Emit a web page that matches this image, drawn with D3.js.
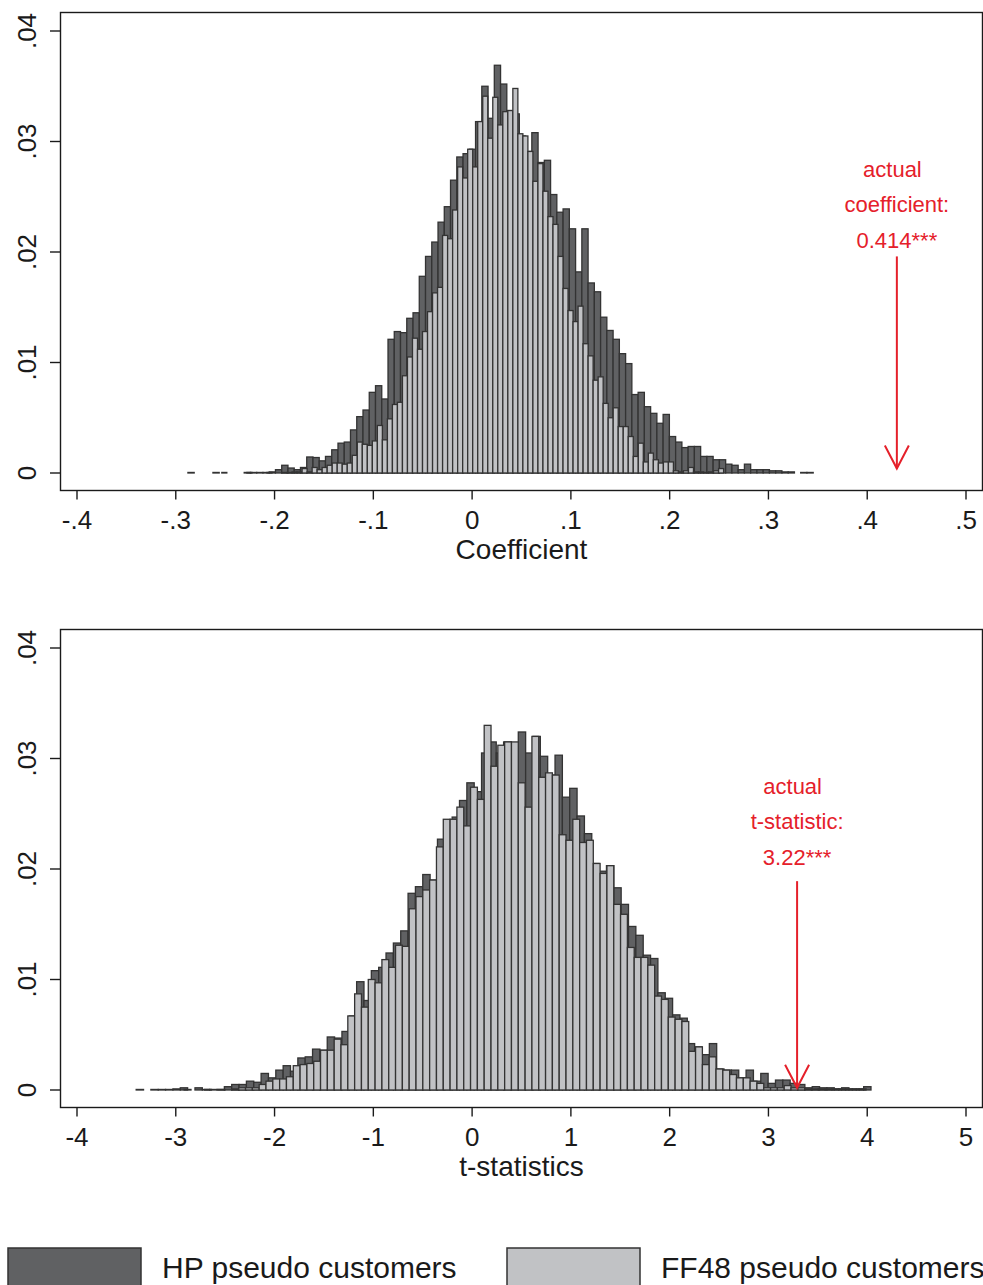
<!DOCTYPE html>
<html>
<head>
<meta charset="utf-8">
<script src="https://cdn.jsdelivr.net/npm/d3@7"></script>
<style>
  body { margin: 0; background: #fff; }
  text { font-family: "Liberation Sans", Arial, sans-serif; fill: #1a1a1a; }
</style>
</head>
<body>
<div id="chart"></div>
<script>
// ---- data: bin start, bin width and densities for each histogram ----
var hpCoefStart = -0.2877, hpCoefWidth = 0.00633
var hpCoef = [0.00005,0,0,0,0.00005,0,0,0,0,0.00005,
  0.00005,0.00005,0.00005,0.0001,0.0003,0.0007,0.00045,0.0003,0.0005,0.00145,
  0.0014,0.0011,0.0015,0.0021,0.0027,0.0028,0.0039,0.0051,0.0057,0.0073,
  0.0079,0.0067,0.0121,0.0128,0.0127,0.0140,0.0145,0.0178,0.0196,0.0209,
  0.0227,0.0241,0.0265,0.0286,0.0289,0.0293,0.0318,0.0350,0.0321,0.0369,
  0.0352,0.0328,0.0325,0.0305,0.0291,0.0308,0.0281,0.0283,0.0252,0.0236,
  0.0239,0.0221,0.0182,0.0221,0.0172,0.0164,0.0141,0.0129,0.0121,0.0108,
  0.0099,0.0071,0.0073,0.0060,0.0054,0.0045,0.0053,0.0033,0.0028,0.0023,
  0.0024,0.0024,0.0015,0.0015,0.0012,0.0012,0.0008,0.0007,0.0003,0.0008,
  0.0003,0.0003,0.0003,0.0002,0.0002,0.0001,0.0001,0,0.00005,0.00005]

var ffCoefStart = -0.2534, ffCoefWidth = 0.00508
var ffCoef = [0.00005,0,0,0,0,0.00005,0,0,0,0.00005,
  0,0,0.00005,0.00005,0.0001,0.0001,0.0004,0.0001,0.0005,0.0003,
  0.0005,0.0007,0.0009,0.0009,0.0008,0.0009,0.0016,0.0028,0.0026,0.0025,
  0.0029,0.0043,0.0030,0.0049,0.0062,0.0064,0.0088,0.0105,0.0122,0.0112,
  0.0128,0.0146,0.0163,0.0168,0.0215,0.0212,0.0238,0.0277,0.0267,0.0293,
  0.0277,0.0318,0.0341,0.0303,0.0340,0.0315,0.0327,0.0328,0.0348,0.0307,
  0.0305,0.0291,0.0264,0.0280,0.0255,0.0232,0.0225,0.0196,0.0167,0.0147,
  0.0137,0.0151,0.0117,0.0106,0.0084,0.0087,0.0063,0.0050,0.0059,0.0042,
  0.0042,0.0033,0.0015,0.0027,0.0010,0.0018,0.0012,0.0009,0.0010,0.0010,
  0.0002,0.0001,0.0002,0.0005,0.0001,0.0001,0.00005,0.0001,0.0002,0.0004]

var hpTStart = -3.4008, hpTWidth = 0.07439
var hpT = [0.00005,0,0.00005,0.00005,0.00005,0.0001,0.0002,0,0.0002,0.00005,
  0.00005,0.00005,0.0003,0.0005,0.0005,0.0008,0.0007,0.0015,0.0011,0.0018,
  0.0022,0.0017,0.0029,0.0030,0.0037,0.0036,0.0048,0.0047,0.0053,0.0067,
  0.0098,0.0081,0.0108,0.0111,0.0124,0.0133,0.0144,0.0178,0.0184,0.0195,
  0.0190,0.0227,0.0240,0.0247,0.0262,0.0278,0.0270,0.0305,0.0315,0.0305,
  0.0315,0.0312,0.0324,0.0305,0.0320,0.0302,0.0285,0.0303,0.0265,0.0273,
  0.0248,0.0232,0.0205,0.0198,0.0203,0.0183,0.0168,0.0148,0.0140,0.0122,
  0.0119,0.0088,0.0083,0.0068,0.0065,0.0042,0.0039,0.0032,0.0042,0.0019,
  0.0018,0.0018,0.0011,0.0018,0.0008,0.0015,0.0006,0.0009,0.0009,0.0006,
  0.0005,0.0002,0.0003,0.0002,0.0002,0.0001,0.0002,0.0001,0.0001,0.0003]

var ffTStart = -2.915, ffTWidth = 0.06903
var ffT = [0.00005,0,0,0.00005,0,0.00005,0,0.0001,0.0002,0.0002,
  0.0002,0.0005,0.0008,0.0010,0.0010,0.0012,0.0022,0.0023,0.0024,0.0026,
  0.0036,0.0036,0.0046,0.0041,0.0067,0.0087,0.0075,0.0100,0.0097,0.0118,
  0.0111,0.0131,0.0130,0.0164,0.0175,0.0181,0.0190,0.0220,0.0245,0.0245,
  0.0256,0.0239,0.0274,0.0263,0.0330,0.0293,0.0312,0.0315,0.0315,0.0278,
  0.0256,0.0320,0.0283,0.0287,0.0285,0.0231,0.0226,0.0245,0.0224,0.0226,
  0.0205,0.0196,0.0203,0.0168,0.0159,0.0129,0.0120,0.0120,0.0113,0.0085,
  0.0082,0.0066,0.0064,0.0062,0.0035,0.0039,0.0023,0.0030,0.0019,0.0018,
  0.0014,0.0011,0.0011,0.0008,0.0006,0.0002,0.0002,0.0002,0.0004,0.0002,
  0.0002,0.0001,0.0001,0.0001,0.0001,0.0001,0.0001,0.0001,0.0001,0.0001]

var coefTicks = [-0.4,-0.3,-0.2,-0.1,0,0.1,0.2,0.3,0.4,0.5]
var coefTickLabels = ["-.4","-.3","-.2","-.1","0",".1",".2",".3",".4",".5"]
var tTicks = [-4,-3,-2,-1,0,1,2,3,4,5]
var tTickLabels = ["-4","-3","-2","-1","0","1","2","3","4","5"]
var yTicks = [0,0.01,0.02,0.03,0.04]
var yTickLabels = ["0",".01",".02",".03",".04"]

var legendLabels = ["HP pseudo customers", "FF48 pseudo customers"]

// annotation: x of each text line, y of each line, arrow x, arrow top, arrow tip
var coefNote = {xs: [0.4255,0.43,0.43], lines: ["actual","coefficient:","0.414***"], ys: [0.0275,0.0243,0.0211], x: 0.43, top: 0.0196, tip: 0.0004}
var tNote = {xs: [3.245,3.29,3.29], lines: ["actual","t-statistic:","3.22***"], ys: [0.0275,0.0243,0.0211], x: 3.29, top: 0.0189, tip: 0.0002}

var darkFill = "#606163", lightFill = "#c1c2c5", barLine = "#333333", red = "#e5202a"

var svg = d3.select("#chart").append("svg")
  .attr("width", 983)
  .attr("height", 1285)

function panel(top, xDomain, ticks, tickLabels, title, series, note) {
  var frameTop = top, frameBottom = top + 478
  var x = d3.scaleLinear().domain(xDomain).range([77, 966])
  var y = d3.scaleLinear().domain([0, 0.04]).range([frameBottom - 17, frameTop + 19])

  var g = svg.append("g")

  // histograms, dark one first so the light one sits on top
  series.forEach(function(s) {
    var bins = s.values.map(function(v, i) {
      return {x0: s.start + i * s.width, x1: s.start + (i + 1) * s.width, v: v}
    }).filter(function(b) { return b.v > 0 })

    g.append("g").selectAll("rect").data(bins).enter().append("rect")
      .attr("x", function(b) { return x(b.x0) })
      .attr("width", function(b) { return x(b.x1) - x(b.x0) })
      .attr("y", function(b) { return y(b.v) })
      .attr("height", function(b) { return y(0) - y(b.v) })
      .style("fill", s.fill)
      .style("stroke", barLine)
      .style("stroke-width", 1.3)
  })

  // frame
  g.append("rect")
    .attr("x", 60.5).attr("y", frameTop + 0.5)
    .attr("width", 922).attr("height", frameBottom - frameTop)
    .style("fill", "none").style("stroke", "#1a1a1a").style("stroke-width", 1.4)

  // x axis
  var xa = g.append("g").attr("transform", "translate(0," + (frameBottom + 0.5) + ")")
  xa.selectAll("line").data(ticks).enter().append("line")
    .attr("x1", function(d) { return x(d) }).attr("x2", function(d) { return x(d) })
    .attr("y1", 0).attr("y2", 9)
    .style("stroke", "#1a1a1a").style("stroke-width", 1.4)
  xa.selectAll("text").data(ticks).enter().append("text")
    .attr("x", function(d) { return x(d) })
    .attr("y", 38)
    .attr("text-anchor", "middle")
    .style("font-size", "26px")
    .text(function(d, i) { return tickLabels[i] })
  g.append("text")
    .attr("x", 521.5).attr("y", frameBottom + 69)
    .attr("text-anchor", "middle")
    .style("font-size", "28px")
    .text(title)

  // y axis
  var ya = g.append("g")
  ya.selectAll("line").data(yTicks).enter().append("line")
    .attr("x1", 50).attr("x2", 60)
    .attr("y1", function(d) { return y(d) }).attr("y2", function(d) { return y(d) })
    .style("stroke", "#1a1a1a").style("stroke-width", 1.4)
  ya.selectAll("text").data(yTicks).enter().append("text")
    .attr("transform", function(d) { return "translate(36," + y(d) + ") rotate(-90)" })
    .attr("text-anchor", "middle")
    .style("font-size", "26px")
    .text(function(d, i) { return yTickLabels[i] })

  // annotation
  note.lines.forEach(function(t, i) {
    g.append("text")
      .attr("x", x(note.xs[i])).attr("y", y(note.ys[i]))
      .attr("dy", "0.35em")
      .attr("text-anchor", "middle")
      .style("font-size", "22px")
      .style("fill", red)
      .text(t)
  })
  var ax = x(note.x), tipY = y(note.tip)
  g.append("line")
    .attr("x1", ax).attr("x2", ax)
    .attr("y1", y(note.top)).attr("y2", tipY)
    .style("stroke", red).style("stroke-width", 2)
  g.append("path")
    .attr("d", "M" + (ax - 12) + "," + (tipY - 23) + "L" + ax + "," + tipY + "L" + (ax + 12) + "," + (tipY - 23))
    .style("fill", "none").style("stroke", red).style("stroke-width", 2)
}

panel(12, [-0.4, 0.5], coefTicks, coefTickLabels, "Coefficient",
  [{start: hpCoefStart, width: hpCoefWidth, values: hpCoef, fill: darkFill},
   {start: ffCoefStart, width: ffCoefWidth, values: ffCoef, fill: lightFill}], coefNote)

panel(629, [-4, 5], tTicks, tTickLabels, "t-statistics",
  [{start: hpTStart, width: hpTWidth, values: hpT, fill: darkFill},
   {start: ffTStart, width: ffTWidth, values: ffT, fill: lightFill}], tNote)

// legend
var legend = svg.append("g")
legendLabels.forEach(function(l, i) {
  var lx = 8 + i * 499
  legend.append("rect")
    .attr("x", lx).attr("y", 1248)
    .attr("width", 133).attr("height", 45)
    .style("fill", i == 0 ? darkFill : lightFill)
    .style("stroke", barLine).style("stroke-width", 1.5)
  legend.append("text")
    .attr("x", lx + 154).attr("y", 1278)
    .style("font-size", "30px")
    .text(l)
})
</script>
</body>
</html>
